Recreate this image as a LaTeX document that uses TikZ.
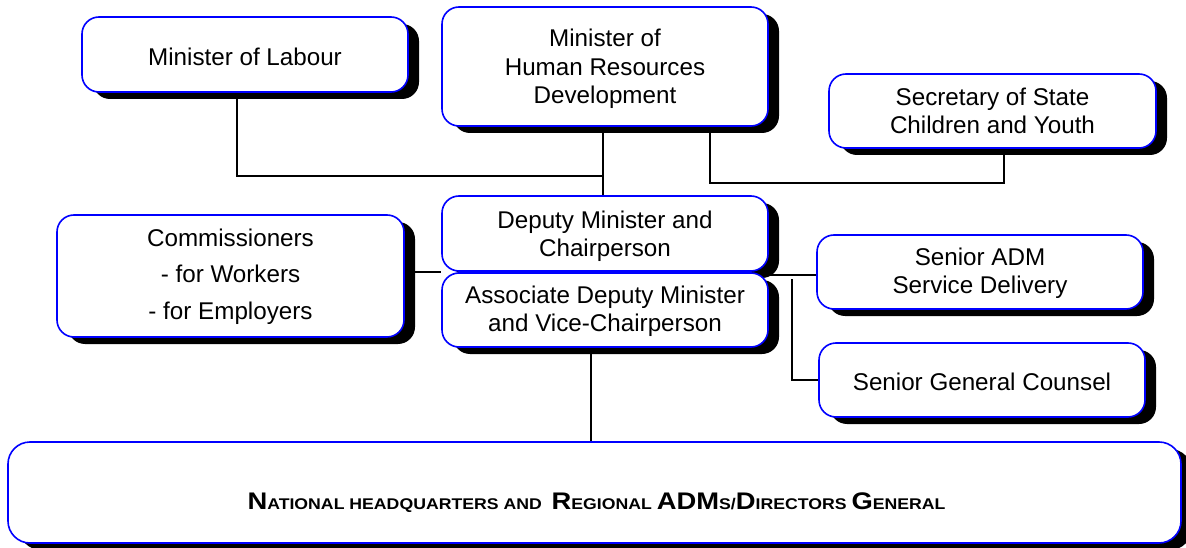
\documentclass[tikz,border=0pt]{standalone}
\usepackage{fontspec}
\setmainfont{Liberation Sans}
\usetikzlibrary{shadows,calc,backgrounds}
\newcommand\capbig[1]{{\fontsize{24}{26}\selectfont #1}}
\begin{document}
\begin{tikzpicture}[x=1pt,y=-1pt,
  orgbox/.style={draw=blue, line width=1.6pt, fill=white, rounded corners=17pt,
    align=center, inner sep=0pt, font=\fontsize{24.2}{28}\selectfont, text depth=0pt,
    drop shadow={shadow xshift=11pt, shadow yshift=-7pt, fill=black, opacity=1}},
  link/.style={draw=black, line width=1.7pt}]
\clip (0,0) rectangle (1186,548);

% boxes (text height sets where the last baseline sits below the box centre)
\node[orgbox, minimum width=326pt, minimum height=75pt, text height=23pt] (labour) at (245,54.5) {Minister of Labour};
\node[orgbox, minimum width=326pt, minimum height=119pt, text height=75pt, font=\fontsize{24.2}{28.7}\selectfont] (hrd) at (605,66.5) {Minister of\\Human Resources\\Development};
\node[orgbox, minimum width=327pt, minimum height=74pt, text height=44.5pt] (sec) at (992.5,111) {Secretary of State\\Children and Youth};
\node[orgbox, minimum width=347pt, minimum height=122pt, text height=86.5pt, font=\fontsize{24.2}{36.5}\selectfont] (comm) at (230.5,276) {Commissioners\\- for Workers\\- for Employers};
\node[orgbox, minimum width=326pt, minimum height=75pt, text height=46pt] (dep) at (605,233.5) {Deputy Minister and\\Chairperson};
\node[orgbox, minimum width=326pt, minimum height=74pt, text height=43.5pt] (assoc) at (605,310) {Associate Deputy Minister\\and Vice-Chairperson};
\node[orgbox, minimum width=326pt, minimum height=74pt, text height=42.5pt] (sadm) at (980,272) {Senior ADM\\Service Delivery};
\node[orgbox, minimum width=326pt, minimum height=74pt, text height=20.5pt] (sgc) at (982,380) {Senior General Counsel};
\node[orgbox, minimum width=1173pt, minimum height=101pt, rounded corners=22pt] (nat) at (594.5,492.5) {};
\node[font=\bfseries\fontsize{15.5}{18}\selectfont, inner sep=0pt, anchor=base] (natlabel) at (596.5,509)
  {\scalebox{1.14}[1]{\capbig{N}ATIONAL HEADQUARTERS AND \ \capbig{R}EGIONAL \capbig{ADM}S/\capbig{D}IRECTORS \capbig{G}ENERAL}};

% junction points
\coordinate (labdrop) at ($(labour.south)+(-8,0)$);
\coordinate (hrdleft) at ($(hrd.south)+(-2,0)$);
\coordinate (hrdright) at ($(hrd.south)+(105,0)$);
\coordinate (secdrop) at ($(sec.south)+(11.5,0)$);
\coordinate (midjoin) at ($(dep.south west)!0.5!(assoc.north west)$);
\coordinate (rightjoin) at ($(dep.south east)+(0,3)$);
\coordinate (counseljoin) at (792,279);
\coordinate (assocdrop) at ($(assoc.south)+(-14,0)$);

% connectors
\begin{scope}[on background layer]
  \draw[link] (labdrop) |- (hrdleft |- 0,176);
  \draw[link] (hrdleft) -- (hrdleft |- dep.north);
  \draw[link] (hrdright) |- (secdrop |- 0,183) -- (secdrop);
  \draw[link] (comm.east |- midjoin) -- (midjoin);
  \draw[link] (rightjoin) -- (sadm.west |- rightjoin);
  \draw[link] (counseljoin) |- (sgc.west);
  \draw[link] (assocdrop) -- (assocdrop |- nat.north);
\end{scope}
\end{tikzpicture}
\end{document}
